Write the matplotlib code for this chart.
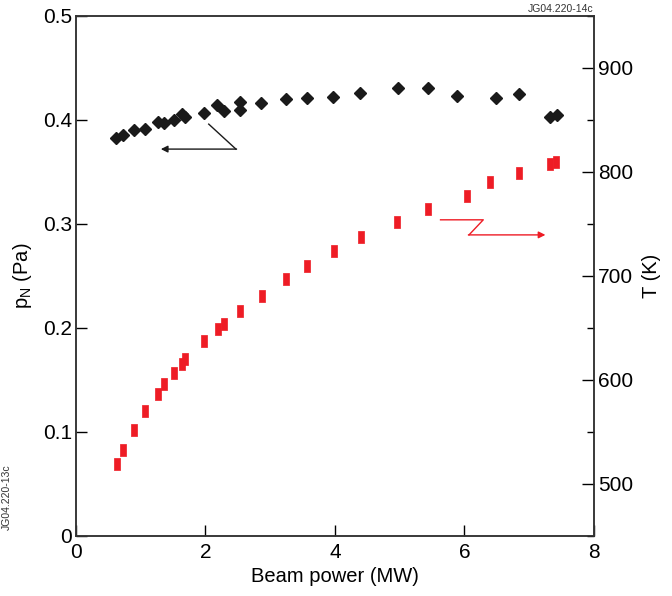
import numpy as np
import matplotlib
matplotlib.use("Agg")
import matplotlib.pyplot as plt
from matplotlib.ticker import MultipleLocator

plt.rcParams['font.family'] = ['Liberation Sans', 'DejaVu Sans']

# neutral pressure vs beam power (left axis)
p_power = [0.62, 0.73, 0.89, 1.07, 1.26, 1.36, 1.51, 1.64, 1.68, 1.98, 2.18, 2.28,
           2.53, 2.53, 2.85, 3.25, 3.57, 3.97, 4.39, 4.97, 5.44, 5.88, 6.48, 6.84,
           7.32, 7.43]
p_n = [0.383, 0.386, 0.390, 0.391, 0.398, 0.397, 0.400, 0.406, 0.403, 0.407,
       0.414, 0.409, 0.417, 0.410, 0.416, 0.420, 0.421, 0.422, 0.426, 0.431,
       0.431, 0.423, 0.421, 0.425, 0.403, 0.405]

# temperature vs beam power (right axis)
t_power = [0.64, 0.73, 0.90, 1.07, 1.26, 1.36, 1.51, 1.64, 1.69, 1.98, 2.20, 2.28,
           2.53, 2.87, 3.25, 3.57, 3.98, 4.40, 4.96, 5.44, 6.04, 6.40, 6.84, 7.32, 7.42]
temp = [519, 533, 552, 570, 587, 596, 607, 615, 620, 637, 649, 654, 666, 681,
        697, 710, 724, 737, 752, 764, 777, 790, 799, 808, 810]

fig = plt.figure(figsize=(6.72, 5.96), dpi=100)
ax = fig.add_axes([0.1131, 0.1007, 0.7708, 0.8725])
ax2 = ax.twinx()

ax.plot(p_power, p_n, linestyle='none', marker='D', ms=6.5, color='#1a1a1a', zorder=3)
rect = [(-0.62, -1), (0.62, -1), (0.62, 1), (-0.62, 1), (-0.62, -1)]
ax2.plot(t_power, temp, linestyle='none', marker=rect, ms=8, color='#ee1c25',
         mec='#ee1c25', mew=0.5, zorder=3)

ax.set_xlim(0, 8)
ax.set_ylim(0, 0.5)
ax2.set_ylim(450, 950)

ax.xaxis.set_major_locator(MultipleLocator(2))
ax.set_yticks([0, 0.1, 0.2, 0.3, 0.4, 0.5])
ax.set_yticklabels(['0', '0.1', '0.2', '0.3', '0.4', '0.5'])
ax2.set_yticks([500, 600, 700, 800, 900])
ax2.yaxis.set_minor_locator(MultipleLocator(50))

ax.tick_params(axis='both', direction='in', length=8, width=1, labelsize=15, pad=3)
ax.tick_params(axis='x', pad=5)
ax2.tick_params(axis='y', which='major', direction='in', length=9, width=1,
                labelsize=15, pad=3)
ax2.tick_params(axis='y', which='minor', direction='in', length=5, width=1)

for a in (ax, ax2):
    for s in a.spines.values():
        s.set_color('#333333')
        s.set_linewidth(1.1)

ax.set_xlabel('Beam power (MW)', fontsize=14.5, labelpad=4)
ax.set_ylabel(r'p$_\mathregular{N}$ (Pa)', fontsize=14.5, labelpad=6)
ax2.set_ylabel('T (K)', fontsize=14.5, labelpad=6)

# arrows pointing to the matching axes
ax.plot([2.05, 2.47], [0.396, 0.372], color='#1a1a1a', lw=1)
ax.annotate('', xy=(1.31, 0.372), xytext=(2.48, 0.372),
            arrowprops=dict(arrowstyle='-|>', color='#1a1a1a', lw=1,
                            mutation_scale=10, shrinkA=0, shrinkB=0))
ax2.plot([5.63, 6.29, 6.07], [754, 754, 739.5], color='#ee1c25', lw=1)
ax2.annotate('', xy=(7.25, 739.5), xytext=(6.06, 739.5),
             arrowprops=dict(arrowstyle='-|>', color='#ee1c25', lw=1,
                             mutation_scale=10, shrinkA=0, shrinkB=0))

fig.text(0.883, 0.9855, 'JG04.220-14c', fontsize=7.5, ha='right', va='center',
         color='#333333')
fig.text(0.003, 0.166, 'JG04.220-13c', fontsize=7.5, rotation=90, ha='left',
         va='center', color='#333333')

fig.savefig('out.png', dpi=100)
